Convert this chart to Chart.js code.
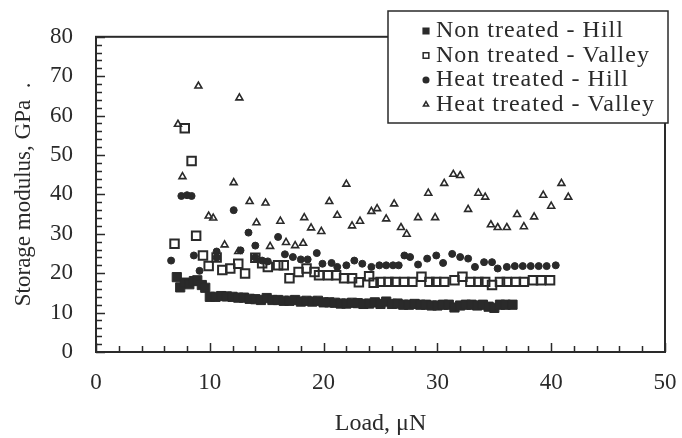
<!DOCTYPE html>
<html>
<head>
<meta charset="utf-8">
<script src="https://cdn.jsdelivr.net/npm/chart.js@4/dist/chart.umd.min.js"></script>
<style>
  html, body { margin: 0; padding: 0; background: #fff; }
  #storageChart { display: block; }
</style>
</head>
<body>
<canvas id="storageChart" width="682" height="438"></canvas>
<script>
// Storage modulus (GPa) against load (uN), four surface / treatment cases
const ntHillLoad = [7.1, 7.4, 7.8, 8.2, 8.6, 8.9, 9.3, 9.6, 10.0, 10.5, 11.0, 11.5, 12.0, 12.5, 13.0, 13.5,
  14.0, 14.5, 15.0, 15.5, 16.0, 16.5, 17.0, 17.5, 18.0, 18.5, 19.0, 19.5, 20.0, 20.5, 21.0, 21.5, 22.0,
  22.5, 23.0, 23.5, 24.0, 24.5, 25.0, 25.5, 26.0, 26.5, 27.0, 27.5, 28.0, 28.5, 29.0, 29.5, 30.0, 30.5,
  31.0, 31.5, 32.0, 32.5, 33.0, 33.5, 34.0, 34.5, 35.0, 35.5, 36.0, 36.6];
const ntHillModulus = [19, 16.4, 17.6, 17.2, 18, 18.2, 17, 16.3, 14, 14, 14.2, 14.1, 14, 13.8, 13.8, 13.5,
  13.4, 13.2, 13.7, 13.2, 13.2, 13, 13, 13.2, 12.8, 13, 12.8, 13, 12.6, 12.6, 12.5, 12.3, 12.3,
  12.5, 12.4, 12.2, 12.3, 12.6, 12.2, 12.8, 12.2, 12.3, 12, 12, 12.2, 12, 12, 11.8, 11.8, 12,
  12, 11.3, 11.8, 12, 12, 11.8, 12, 11.5, 11.2, 12, 12, 12];

const ntValleyLoad = [6.9, 7.8, 8.4, 8.8, 9.4, 9.9, 10.6, 11.1, 11.8, 12.5, 13.1, 14.0, 14.6, 15.1, 16.0,
  16.5, 17.0, 17.8, 18.5, 19.2, 19.6, 20.4, 21.1, 21.8, 22.5, 23.1, 24.0, 24.4, 25.0, 25.7, 26.3, 27.1,
  27.8, 28.6, 29.3, 29.9, 30.6, 31.5, 32.2, 32.9, 33.6, 34.2, 34.8, 35.5, 36.1, 36.9, 37.6, 38.4, 39.1, 39.9];
const ntValleyModulus = [27.5, 56.8, 48.5, 29.5, 24.5, 21.8, 24, 20.8, 21.2, 22.4, 19.9, 23.9, 22.5, 21.6, 22,
  22, 18.7, 20.3, 21.2, 20.3, 19.5, 19.5, 19.5, 18.7, 18.7, 17.7, 19.2, 17.6, 17.8, 17.8, 17.8, 17.8,
  17.8, 19.1, 17.8, 17.8, 17.8, 18.2, 19.1, 17.8, 17.8, 17.8, 17.0, 17.8, 17.8, 17.8, 17.8, 18.2, 18.2, 18.2];

const htHillLoad = [6.6, 7.5, 8.0, 8.4, 8.6, 9.1, 10.6, 10.6, 12.1, 12.7, 13.4, 14.0, 14.0, 14.6, 15.1,
  16.0, 16.6, 17.3, 18.0, 18.6, 19.4, 19.9, 20.7, 21.2, 22.0, 22.7, 23.4, 24.2, 24.9, 25.5, 26.1, 26.6,
  27.1, 27.6, 28.3, 29.1, 29.9, 30.5, 31.3, 32.0, 32.7, 33.3, 34.1, 34.8, 35.3, 36.1, 36.8, 37.5, 38.2,
  38.9, 39.6, 40.4];
const htHillModulus = [23.2, 39.6, 39.8, 39.6, 24.5, 20.6, 25.5, 24, 36, 25.8, 30.3, 27, 24, 23.2, 23,
  29.2, 24.8, 24.1, 23.5, 23.5, 25.1, 22.4, 22.6, 21.6, 22, 23.2, 22.4, 21.6, 22, 22, 22, 22,
  24.5, 24.1, 22.2, 23.7, 24.5, 22.6, 24.9, 24.1, 23.7, 21.6, 22.8, 22.8, 21.2, 21.6, 21.8, 21.8, 21.8,
  21.8, 21.8, 22];

const htValleyLoad = [7.2, 7.6, 9.0, 9.9, 10.3, 11.3, 12.1, 12.6, 12.5, 13.5, 14.1, 14.9, 15.3, 16.2, 16.7,
  17.5, 18.2, 18.3, 18.9, 19.8, 20.5, 21.2, 22.0, 22.5, 23.2, 24.2, 24.7, 25.5, 26.2, 26.8, 27.3, 28.3,
  29.2, 29.8, 30.6, 31.4, 32.0, 32.7, 33.6, 34.2, 34.7, 35.3, 36.1, 37.0, 37.6, 38.5, 39.3, 40.0, 40.9, 41.5];
const htValleyModulus = [57.8, 44.5, 67.5, 34.5, 34, 27.2, 43, 64.5, 25.5, 38.2, 32.8, 37.8, 26.8, 33.2, 27.8,
  27, 27.6, 34.1, 31.5, 30.6, 38.2, 34.7, 42.6, 32, 33.2, 35.7, 36.4, 33.8, 37.6, 31.6, 29.9, 34.1,
  40.3, 34.1, 42.8, 45.1, 44.8, 36.2, 40.3, 39.3, 32.3, 31.6, 31.6, 34.9, 31.8, 34.3, 39.8, 37, 42.8, 39.3];

const seriesNames = ["Non treated - Hill", "Non treated - Valley", "Heat treated - Hill", "Heat treated - Valley"];
const loadTicks = [0, 10, 20, 30, 40, 50];
const modulusTicks = [0, 10, 20, 30, 40, 50, 60, 70, 80];

const ink = "#2a2a2a";
const serif = "'Liberation Serif', 'Times New Roman', serif";

function pairs(xs, ys) {
  return xs.map((x, i) => ({ x: x, y: ys[i] }));
}

// box, inward tick marks and the boxed legend
const framePlugin = {
  id: "frame",
  afterDraw(chart) {
    const { ctx, chartArea: a, scales: { x, y } } = chart;
    ctx.save();
    ctx.strokeStyle = ink;
    ctx.lineWidth = 2;
    ctx.strokeRect(a.left, a.top, a.right - a.left, a.bottom - a.top);

    ctx.lineWidth = 1.5;
    ctx.beginPath();
    for (let v = 0; v <= 80; v += 2) {
      const py = Math.round(y.getPixelForValue(v)) + 0.5;
      const len = v % 10 === 0 ? 9 : 6;
      ctx.moveTo(a.left, py);
      ctx.lineTo(a.left + len, py);
    }
    for (let v = 0; v <= 50; v += 2) {
      const px = Math.round(x.getPixelForValue(v)) + 0.5;
      const len = v % 10 === 0 ? 9 : 6;
      ctx.moveTo(px, a.bottom);
      ctx.lineTo(px, a.bottom - len);
    }
    ctx.stroke();

    // legend
    const box = { left: 388, top: 11, width: 280, height: 112 };
    ctx.fillStyle = "#fff";
    ctx.fillRect(box.left, box.top, box.width, box.height);
    ctx.lineWidth = 1.5;
    ctx.strokeRect(box.left, box.top, box.width, box.height);
    ctx.font = "24px " + serif;
    ctx.letterSpacing = "1px";
    ctx.textBaseline = "alphabetic";
    ctx.textAlign = "left";
    chart.data.datasets.forEach((ds, i) => {
      const base = 37 + i * 24.5;
      ctx.fillStyle = ds.backgroundColor;
      ctx.strokeStyle = ds.borderColor;
      Chart.helpers.drawPoint(ctx, {
        pointStyle: ds.pointStyle,
        radius: ds.legendRadius,
        borderWidth: 1.2,
        rotation: 0
      }, 426, base - 6);
      ctx.fillStyle = ink;
      ctx.fillText(ds.label, 436, base);
    });
    ctx.restore();
  }
};

new Chart(document.getElementById("storageChart"), {
  type: "scatter",
  data: {
    datasets: [
      {
        label: seriesNames[0],
        data: pairs(ntHillLoad, ntHillModulus),
        pointStyle: "rect",
        pointRadius: 6.5,
        backgroundColor: ink,
        borderColor: ink,
        borderWidth: 1,
        legendRadius: 4,
        order: 4
      },
      {
        label: seriesNames[1],
        data: pairs(ntValleyLoad, ntValleyModulus),
        pointStyle: "rect",
        pointRadius: 6,
        backgroundColor: "rgba(255,255,255,0)",
        borderColor: ink,
        borderWidth: 2,
        legendRadius: 4,
        order: 3
      },
      {
        label: seriesNames[2],
        data: pairs(htHillLoad, htHillModulus),
        pointStyle: "circle",
        pointRadius: 3.5,
        backgroundColor: ink,
        borderColor: ink,
        borderWidth: 1,
        legendRadius: 2.8,
        order: 2
      },
      {
        label: seriesNames[3],
        data: pairs(htValleyLoad, htValleyModulus),
        pointStyle: "triangle",
        pointRadius: 4,
        backgroundColor: "rgba(255,255,255,0)",
        borderColor: ink,
        borderWidth: 1.6,
        legendRadius: 3,
        order: 1
      }
    ]
  },
  options: {
    responsive: false,
    animation: false,
    devicePixelRatio: 1,
    layout: { padding: { left: 0, right: 17, top: 32, bottom: 0 } },
    plugins: {
      legend: { display: false },
      tooltip: { enabled: false }
    },
    scales: {
      x: {
        type: "linear",
        min: 0,
        max: 50,
        afterBuildTicks: (s) => { s.ticks = loadTicks.map(v => ({ value: v })); },
        afterFit: (s) => {
          // keep the plot edge fixed; the end labels fit inside the layout padding
          s.height = 86;
          s.paddingLeft = 0;
          s.paddingRight = 0;
        },
        grid: { display: false, drawTicks: false },
        border: { display: false },
        ticks: { color: ink, padding: 17, font: { family: serif, size: 23 } },
        title: {
          display: true,
          text: "Load, μN",
          color: ink,
          font: { family: serif, size: 24 },
          padding: { top: 0, bottom: 0 }
        }
      },
      y: {
        type: "linear",
        min: 0,
        max: 80,
        afterBuildTicks: (s) => { s.ticks = modulusTicks.map(v => ({ value: v })); },
        afterFit: (s) => { s.width = 96; },
        grid: { display: false, drawTicks: false },
        border: { display: false },
        ticks: { color: ink, padding: 23, font: { family: serif, size: 23 } },
        title: {
          display: true,
          text: "Storage modulus, GPa  .",
          color: ink,
          font: { family: serif, size: 23 },
          padding: { top: 10, bottom: 0 }
        }
      }
    }
  },
  plugins: [framePlugin]
});
</script>
</body>
</html>
